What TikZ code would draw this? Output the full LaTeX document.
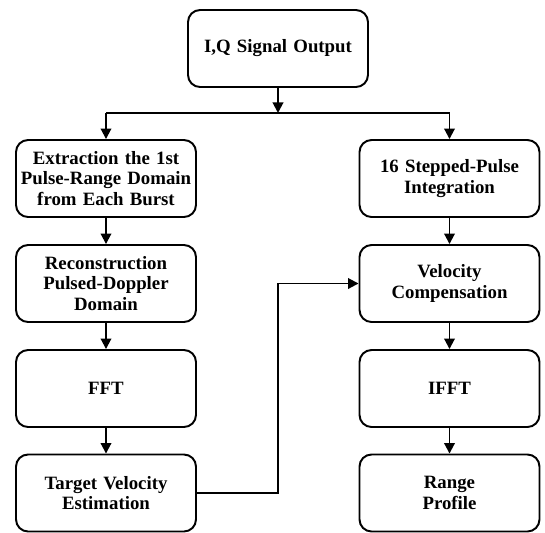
\documentclass[tikz,border=0pt]{standalone}
\usepackage{fontspec}
\setmainfont{Liberation Serif}
\usetikzlibrary{arrows.meta}

\begin{document}
\begin{tikzpicture}[x=0.02cm, y=-0.02cm,
  procbox/.style={draw, line width=1.1pt, rounded corners=0.24cm, align=center,
    text width=3.44cm, minimum height=1.54cm, inner xsep=0.08cm, inner ysep=2pt,
    font=\bfseries\fontsize{10.7}{11.6}\selectfont},
  flow/.style={line width=1.1pt, -{Triangle[length=6pt, width=6pt]}}]
\useasboundingbox (0,0) rectangle (545,532);

\node[procbox] (iq) at (278, 48.5) {I,Q Signal Output};

\node[procbox] (extract) at (106, 178.5) {Extraction the 1st\\Pulse-Range Domain\\from Each Burst};
\node[procbox] (recon) at (106, 283.5) {Reconstruction\\Pulsed-Doppler\\Domain};
\node[procbox] (fft) at (106, 388.5) {FFT};
\node[procbox] (tve) at (106, 493) {Target Velocity\\Estimation};

\node[procbox] (integ) at (449.5, 178.5) {16 Stepped-Pulse\\Integration};
\node[procbox] (velcomp) at (449.5, 283.5) {Velocity\\Compensation};
\node[procbox] (ifft) at (449.5, 388.5) {IFFT};
\node[procbox] (range) at (449.5, 493) {Range\\Profile};

\coordinate (split) at (278, 113);
\draw[flow] (iq.south) -- (split);
\draw[line width=1.1pt] (extract.north |- split) -- (integ.north |- split);
\draw[flow] (extract.north |- split) -- (extract.north);
\draw[flow] (integ.north |- split) -- (integ.north);

\draw[flow] (extract) -- (recon);
\draw[flow] (recon) -- (fft);
\draw[flow] (fft) -- (tve);

\draw[flow] (integ) -- (velcomp);
\draw[flow] (velcomp) -- (ifft);
\draw[flow] (ifft) -- (range);

\draw[flow] (tve.east) -- ++(81,0) |- (velcomp.west);
\end{tikzpicture}
\end{document}
